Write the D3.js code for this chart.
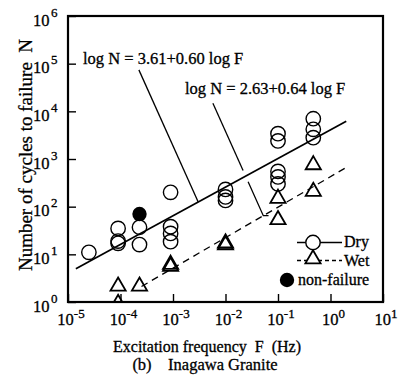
<!DOCTYPE html>
<html><head><meta charset="utf-8">
<script src="https://cdn.jsdelivr.net/npm/d3@7"></script>
<style>
body{margin:0;background:#fff;}
svg{display:block;}
text{font-family:"Liberation Serif","Times New Roman",serif;fill:#000;stroke:#000;stroke-width:0.3;white-space:pre;}
</style></head>
<body>
<script>
// ---- data ----
const xDecades = [-5,-4,-3,-2,-1,0,1];
const yDecades = [0,1,2,3,4,5,6];

const dryF = [2.5e-5, 9e-5, 9e-5, 9e-5, 2.3e-4, 2.3e-4, 9e-4, 9e-4, 9e-4, 9e-4, 1e-2, 1e-2, 1e-2, 0.1, 0.1, 0.1, 0.1, 0.1, 0.47, 0.47, 0.47];
const dryN = [11, 35, 19, 17, 37, 16, 200, 38, 27.5, 18.4, 230, 160, 135, 3400, 2400, 550, 420, 300, 7000, 4200, 2800];

const nonFailF = [2.3e-4];
const nonFailN = [70];

const wetF = [9e-5, 9e-5, 2.3e-4, 9e-4, 9e-4, 1e-2, 1e-2, 0.1, 0.1, 0.47, 0.47];
const wetN = [1, 2.3, 2.3, 6, 6.6, 17, 18.5, 160, 57, 810, 224];

// fitted lines: log N = a + b log F, drawn between logF limits
const dryFit = {a:3.61, b:0.60, logF0:-4.85, logF1:0.30};
const wetFit = {a:2.63, b:0.64, logF0:-3.60, logF1:0.32};

const labels = ["log N = 3.61+0.60 log F", "log N = 2.63+0.64 log F"];

// ---- drawing ----
const W=402,H=378;
const L=68,R=383,T=16,B=302;
const svg=d3.select("body").append("svg").attr("width",W).attr("height",H);
const x=d3.scaleLog().domain([1e-5,10]).range([L,R]);
const y=d3.scaleLog().domain([1,1e6]).range([B,T]);
const fitN=(f,lf)=>Math.pow(10,f.a+f.b*lf);

svg.append("defs").append("clipPath").attr("id","clip")
  .append("rect").attr("x",L).attr("y",T).attr("width",R-L).attr("height",B-T);

// axes (inward ticks)
const gx=svg.append("g").attr("transform",`translate(0,${B})`)
  .call(d3.axisBottom(x).tickValues(xDecades.map(d=>Math.pow(10,d))).tickSize(-8).tickFormat(""));
const gy=svg.append("g").attr("transform",`translate(${L},0)`)
  .call(d3.axisLeft(y).tickValues(yDecades.map(d=>Math.pow(10,d))).tickSize(-8).tickFormat(""));
[gx,gy].forEach(g=>{g.select(".domain").remove();g.selectAll(".tick line").attr("stroke","#000").attr("stroke-width",1.4);});

// x tick labels
xDecades.forEach(d=>{
  const t=svg.append("text").attr("x",x(Math.pow(10,d))+3).attr("y",B+23).attr("text-anchor","middle").attr("font-size",16.5);
  t.append("tspan").text("10");
  t.append("tspan").attr("dy",-7).attr("font-size",13).text(String(d));
});
// y tick labels
yDecades.forEach(d=>{
  const t=svg.append("text").attr("x",33).attr("y",y(Math.pow(10,d))+9.5).attr("font-size",16.5);
  t.append("tspan").text("10");
  t.append("tspan").attr("dx",1.5).attr("dy",-9).attr("font-size",13).text(String(d));
});

// frame
svg.append("rect").attr("x",L).attr("y",T).attr("width",R-L).attr("height",B-T)
  .attr("fill","none").attr("stroke","#000").attr("stroke-width",2.2);

const plot=svg.append("g").attr("clip-path","url(#clip)");

// fit lines
const line=d3.line().x(d=>x(d[0])).y(d=>y(d[1]));
function fitPts(f){return [f.logF0,f.logF1].map(lf=>[Math.pow(10,lf),fitN(f,lf)]);}
plot.append("path").attr("d",line(fitPts(dryFit))).attr("fill","none").attr("stroke","#000").attr("stroke-width",1.7);
plot.append("path").attr("d",line(fitPts(wetFit))).attr("fill","none").attr("stroke","#000").attr("stroke-width",1.3).attr("stroke-dasharray","7,5");

// leader lines (data coordinates)
const lead1 = [[Math.pow(10,-3.65),Math.pow(10,4.87)],[Math.pow(10,-2.52),fitN(dryFit,-2.52)]];
plot.append("path").attr("d",line(lead1)).attr("fill","none").attr("stroke","#000").attr("stroke-width",1.3);
const l2s=[-2.24,4.17], l2e=[-1.28, Math.log10(fitN(wetFit,-1.28))];
const ptAt=t=>[Math.pow(10,l2s[0]+(l2e[0]-l2s[0])*t),Math.pow(10,l2s[1]+(l2e[1]-l2s[1])*t)];
let tc=0.5;{let lo=0,hi=1;for(let i=0;i<40;i++){const m=(lo+hi)/2;const lf=l2s[0]+(l2e[0]-l2s[0])*m;const ln=l2s[1]+(l2e[1]-l2s[1])*m;if(ln>dryFit.a+dryFit.b*lf)lo=m;else hi=m;}tc=(lo+hi)/2;}
plot.append("path").attr("d",line([ptAt(0),ptAt(tc-0.05)])).attr("fill","none").attr("stroke","#000").attr("stroke-width",1.3);
plot.append("path").attr("d",line([ptAt(tc+0.05),ptAt(1),[Math.pow(10,l2e[0]+0.1),Math.pow(10,l2e[1])]])).attr("fill","none").attr("stroke","#000").attr("stroke-width",1.3);

// labels
svg.append("text").attr("x",83).attr("y",64).attr("font-size",16.5).text(labels[0]);
svg.append("text").attr("x",185).attr("y",94).attr("font-size",16.5).text(labels[1]);

// markers
const tri=d3.symbol().type(d3.symbolTriangle).size(100);
plot.selectAll(".wet").data(wetF.map((f,i)=>[f,wetN[i]])).join("path")
  .attr("d",tri).attr("transform",d=>`translate(${x(d[0])},${y(d[1])+1.5})`)
  .attr("fill","none").attr("stroke","#000").attr("stroke-width",1.8);
plot.selectAll(".dry").data(dryF.map((f,i)=>[f,dryN[i]])).join("circle")
  .attr("cx",d=>x(d[0])).attr("cy",d=>y(d[1])).attr("r",7.2)
  .attr("fill","none").attr("stroke","#000").attr("stroke-width",1.4);
plot.selectAll(".nf").data(nonFailF.map((f,i)=>[f,nonFailN[i]])).join("circle")
  .attr("cx",d=>x(d[0])).attr("cy",d=>y(d[1])).attr("r",7.2).attr("fill","#000");

// legend
const lg=svg.append("g");
lg.append("line").attr("x1",297).attr("x2",342).attr("y1",242.5).attr("y2",242.5).attr("stroke","#000").attr("stroke-width",1.3);
lg.append("circle").attr("cx",313).attr("cy",242.5).attr("r",7.2).attr("fill","#fff").attr("stroke","#000").attr("stroke-width",1.4);
lg.append("text").attr("x",344).attr("y",246.5).attr("font-size",16).text("Dry");
lg.append("line").attr("x1",297).attr("x2",342).attr("y1",260.5).attr("y2",260.5).attr("stroke","#000").attr("stroke-width",1.3).attr("stroke-dasharray","4,3");
lg.append("path").attr("d",tri).attr("transform","translate(313,259)").attr("fill","#fff").attr("stroke","#000").attr("stroke-width",1.8);
lg.append("text").attr("x",344).attr("y",265.5).attr("font-size",16).text("Wet");
lg.append("circle").attr("cx",287).attr("cy",280).attr("r",7.2).attr("fill","#000");
lg.append("text").attr("x",298).attr("y",285).attr("font-size",16).text("non-failure");

// axis titles
svg.append("text").attr("x",207).attr("y",352).attr("text-anchor","middle").attr("font-size",16).text("Excitation frequency  F  (Hz)");
svg.append("text").attr("x",205).attr("y",370).attr("text-anchor","middle").attr("font-size",16.5).text("(b)    Inagawa Granite");
svg.append("text").attr("transform","translate(32,155) rotate(-90)").attr("text-anchor","middle").attr("font-size",19).text("Number of cycles to failure  N");
</script>
</body></html>
